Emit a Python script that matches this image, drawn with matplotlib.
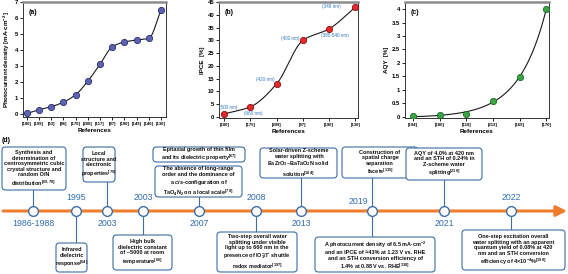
import numpy as np
import matplotlib
matplotlib.use("Agg")
import matplotlib.pyplot as plt
from matplotlib.patches import FancyBboxPatch

plt.rcParams['font.family'] = ['Liberation Sans', 'DejaVu Sans']
plt.rcParams['mathtext.fontset'] = 'custom'
plt.rcParams['mathtext.rm'] = 'Liberation Sans'
plt.rcParams['mathtext.bf'] = 'Liberation Sans:bold'
plt.rcParams['mathtext.it'] = 'Liberation Sans:italic:bold'

# ---------------- data ----------------
a_refs = ['[180]', '[199]', '[53]', '[86]', '[170]', '[200]', '[117]', '[87]', '[190]', '[149]', '[140]', '[130]']
a_vals = [0.02, 0.25, 0.44, 0.73, 1.19, 2.04, 3.1, 4.19, 4.5, 4.62, 4.73, 6.52]

b_refs = ['[180]', '[175]', '[209]', '[97]', '[190]', '[130]']
b_vals = [1.2, 4.0, 13.0, 30.0, 34.5, 43.0]
b_wl = ['(500 nm)', '(660 nm)', '(420 nm)', '(400 nm)', '(380-540 nm)', '(348 nm)']

c_refs = ['[194]', '[180]', '[118]', '[212]', '[169]', '[170]']
c_vals = [0.05, 0.06, 0.1, 0.6, 1.49, 4.0]

years = ['1986-1988', '1995', '2003', '2003', '2007', '2008', '2013', '2019', '2021', '2022']
year_side = ['below', 'above', 'below', 'above', 'below', 'above', 'below', 'above', 'below', 'above']

box_texts = [
    "Synthesis and\ndetermination of\ncentrosymmetric cubic\ncrystal structure and\nrandom O/N\ndistribution$^{\\mathbf{[69,70]}}$",
    "Infrared\ndielectric\nresponse$^{\\mathbf{[64]}}$",
    "Local\nstructure and\nelectronic\nproperties$^{\\mathbf{[79]}}$",
    "High bulk\ndielectric constant\nof ~5000 at room\ntemperature$^{\\mathbf{[66]}}$",
    "Epitaxial growth of thin film\nand its dielectric property$^{\\mathbf{[67]}}$",
    "The absence of long-range\norder and the dominance of\na $\\mathit{cis}$-configuration of\nTaO$_\\mathbf{4}$N$_\\mathbf{2}$ on a local scale$^{\\mathbf{[78]}}$",
    "Two-step overall water\nsplitting under visible\nlight up to 660 nm in the\npresence of IO$_\\mathbf{3}^\\mathbf{-}$/I$^\\mathbf{-}$ shuttle\nredox mediator$^{\\mathbf{[197]}}$",
    "Solar-driven Z-scheme\nwater splitting with\nBaZrO$_\\mathbf{3}$\u2013BaTaO$_\\mathbf{2}$N solid\nsolution$^{\\mathbf{[184]}}$",
    "Construction of\nspatial charge\nseparation\nfacets$^{\\mathbf{[135]}}$",
    "A photocurrent density of 6.5 mA\u00b7cm$^{\\mathbf{-2}}$\nand an IPCE of \u224843% at 1.23 V vs. RHE\nand an STH conversion efficiency of\n1.4% at 0.88 V vs. RHE$^{\\mathbf{[130]}}$",
    "AQY of 4.0% at 420 nm\nand an STH of 0.24% in\nZ-scheme water\nsplitting$^{\\mathbf{[210]}}$",
    "One-step excitation overall\nwater splitting with an apparent\nquantum yield of 0.08% at 420\nnm and an STH conversion\nefficiency of 4\u00d710$^{\\mathbf{-4}}$%$^{\\mathbf{[198]}}$",
]
box_event = [0, 1, 2, 3, None, 4, 5, 6, 7, 7, 8, 9]

# ---------------- layout (pixels) ----------------
W, H = 568, 274
event_x = [33, 76, 107, 143, 199, 256, 301, 372, 444, 511]
year_dx = [0, 0, 0, 0, 0, 0, 0, -14, 0, 0]
line_y = 211
box_px = [(2, 147, 66, 190), (56, 243, 87, 272), (83, 147, 115, 182), (113, 235, 172, 270),
          (153, 147, 245, 162), (155, 166, 242, 197), (217, 232, 297, 272), (260, 148, 337, 178),
          (342, 147, 418, 178), (315, 237, 435, 272), (406, 148, 482, 180), (462, 230, 565, 270)]

orange = '#ef7d2e'
tblue = '#3a6ea8'


def pchip(x, y, xs):
    x = np.asarray(x, float); y = np.asarray(y, float)
    h = np.diff(x); d = np.diff(y) / h
    n = len(x); m = np.zeros(n)
    for k in range(1, n - 1):
        if d[k - 1] * d[k] > 0:
            w1 = 2 * h[k] + h[k - 1]; w2 = h[k] + 2 * h[k - 1]
            m[k] = (w1 + w2) / (w1 / d[k - 1] + w2 / d[k])
    m[0] = d[0]; m[-1] = d[-1]
    idx = np.clip(np.searchsorted(x, xs) - 1, 0, n - 2)
    t = (xs - x[idx]) / h[idx]
    h00 = 2 * t**3 - 3 * t**2 + 1; h10 = t**3 - 2 * t**2 + t
    h01 = -2 * t**3 + 3 * t**2; h11 = t**3 - t**2
    return h00 * y[idx] + h10 * h[idx] * m[idx] + h01 * y[idx + 1] + h11 * h[idx] * m[idx + 1]


fig = plt.figure(figsize=(W / 100, H / 100), dpi=100)


def add_ax(l, r, t, b):
    return fig.add_axes([l / W, 1 - b / H, (r - l) / W, (b - t) / H])


def style(ax, refs, ylabel, label):
    ax.set_xticks(range(len(refs)))
    ax.set_xticklabels(refs, fontsize=3, fontweight='bold')
    ax.tick_params(axis='y', labelsize=4.2, length=2, width=0.6, pad=1.5)
    ax.tick_params(axis='x', length=2, width=0.6, pad=1.5)
    for lab in ax.get_yticklabels():
        lab.set_fontweight('bold')
    for s in ['left', 'bottom', 'right']:
        ax.spines[s].set_linewidth(0.7)
        ax.spines[s].set_color('#333333')
    ax.spines['top'].set_linewidth(1.8)
    ax.spines['top'].set_color('#8c8c8c')
    ax.set_xlabel('References', fontsize=4.5, fontweight='bold', labelpad=1.5)
    ax.set_ylabel(ylabel, fontsize=4.5, fontweight='bold', labelpad=2)
    ax.text(0.04, 0.94, label, transform=ax.transAxes, fontsize=5, fontweight='bold', va='top')


# panel a
axa = add_ax(23, 166, 2, 117)
xa = np.arange(len(a_vals))
xs = np.linspace(0, xa[-1], 400)
axa.plot(xs, pchip(xa, a_vals, xs), color='#1a1a1a', lw=0.8, zorder=2)
axa.plot(xa, a_vals, 'o', ms=4.5, mfc='#5d63b3', mec='#2a2e70', mew=0.6, zorder=3)
axa.set_xlim(-0.3, 11.4); axa.set_ylim(-0.2, 7)
axa.set_yticks(range(0, 8))
style(axa, a_refs, 'Photocurrent density [mA\u00b7cm$^{\\mathbf{-2}}$]', '(a)')

# panel b
axb = add_ax(219, 358, 2, 118)
xb = np.arange(len(b_vals))
xs = np.linspace(0, xb[-1], 400)
axb.plot(xs, pchip(xb, b_vals, xs), color='#1a1a1a', lw=0.8, zorder=2)
axb.plot(xb, b_vals, 'o', ms=4.5, mfc='#e8262b', mec='#8a1212', mew=0.6, zorder=3)
axb.set_xlim(-0.2, 5.1); axb.set_ylim(-0.4, 45)
axb.set_yticks(range(0, 46, 5))
offs = [(3, 4.5), (2, -4.5), (-8, 3), (-9, 1.5), (4.5, -4.5), (-17, 0.7)]
for xi, yi, t, o in zip(xb, b_vals, b_wl, offs):
    axb.annotate(t, (xi, yi), xytext=o, textcoords='offset points', ha='center', va='center',
                 fontsize=3.3, color='#2f76c2')
style(axb, b_refs, 'IPCE  [%]', '(b)')

# panel c
axc = add_ax(405, 549, 2, 118)
xc = np.arange(len(c_vals))
cv = np.asarray(c_vals)
best = None
for bb in np.linspace(0.2, 3, 600):
    A = np.vstack([np.exp(bb * xc), np.ones_like(xc, dtype=float)]).T
    coef, res, *_ = np.linalg.lstsq(A, cv, rcond=None)
    err = np.sum((A @ coef - cv) ** 2)
    if best is None or err < best[0]:
        best = (err, bb, coef)
_, bb, coef = best
xs = np.linspace(0, xc[-1], 400)
axc.plot(xs, coef[0] * np.exp(bb * xs) + coef[1], color='#1a1a1a', lw=0.8, zorder=2)
axc.plot(xc, c_vals, 'o', ms=4.5, mfc='#3aa547', mec='#1a6a28', mew=0.6, zorder=3)
axc.set_xlim(-0.3, 5.1); axc.set_ylim(-0.04, 4.26)
axc.set_yticks([0, 0.5, 1, 1.5, 2, 2.5, 3, 3.5, 4])
axc.set_yticklabels(['0', '0.5', '1', '1.5', '2', '2.5', '3', '3.5', '4'])
style(axc, c_refs, 'AQY  [%]', '(c)')

# panel d (timeline overlay in pixel coordinates)
ov = fig.add_axes([0, 0, 1, 1], facecolor='none')
ov.set_xlim(0, W); ov.set_ylim(H, 0); ov.axis('off')
ov.text(2, 141, '(d)', fontsize=5, fontweight='bold', va='center')
ov.annotate('', xy=(567, line_y), xytext=(3, line_y),
            arrowprops=dict(arrowstyle='-|>,head_length=0.9,head_width=0.45', color=orange,
                            lw=2.2, shrinkA=0, shrinkB=0, mutation_scale=7))

for i, (x0, y0, x1, y1) in enumerate(box_px):
    ov.add_patch(FancyBboxPatch((x0, y0), x1 - x0, y1 - y0,
                                boxstyle='round,pad=0,rounding_size=3.5',
                                fc='white', ec='#3d6ea6', lw=0.8, zorder=4))
    ov.text((x0 + x1) / 2, (y0 + y1) / 2 + 0.5, box_texts[i], ha='center', va='center',
            fontsize=4, fontweight='bold', linespacing=1.12, zorder=5, color='#111111')
    ev = box_event[i]
    if ev is not None:
        ex = event_x[ev]
        if y1 < line_y:
            ov.plot([ex, ex], [y1, line_y], color='#3d6ea6', lw=0.8, zorder=3)
        else:
            ov.plot([ex, ex], [line_y, y0], color='#3d6ea6', lw=0.8, zorder=3)

ov.plot(event_x, [line_y] * len(event_x), 'o', ms=7, mfc='white', mec='#3d6ea6', mew=1.0, zorder=6)
for x, yr, side, dx in zip(event_x, years, year_side, year_dx):
    yy = line_y - 13 if side == 'above' else line_y + 12
    if yr == '2019':
        yy += 3
    ov.text(x + dx, yy, yr, ha='center', va='center', fontsize=6.3, color='#2f6db3', zorder=6)

fig.savefig('out.png', dpi=100)
